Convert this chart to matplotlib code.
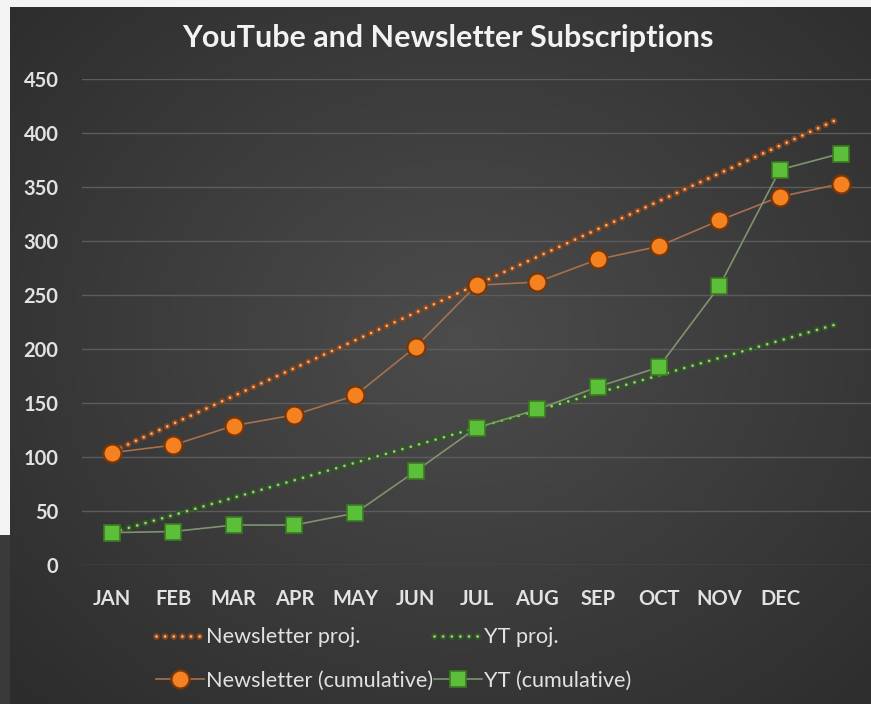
import numpy as np
import matplotlib
matplotlib.use("Agg")
import matplotlib.pyplot as plt
import matplotlib.patheffects as pe
from matplotlib.patches import Rectangle

# data
months = ["JAN", "FEB", "MAR", "APR", "MAY", "JUN", "JUL", "AUG", "SEP", "OCT", "NOV", "DEC", ""]
newsletter = [104, 111, 129, 139, 157, 202, 259, 262, 283, 295, 319, 341, 353]
youtube = [30, 31, 37, 37, 48, 87, 127, 144, 165, 183, 258, 366, 381]
# trend lines: value at first and last point
newsletter_proj = [105, 414]
youtube_proj = [30, 224]

plt.rcParams['font.family'] = ['Lato', 'DejaVu Sans']
plt.rcParams['lines.scale_dashes'] = False
txt = '#e2e2e2'

fig = plt.figure(figsize=(8.71, 7.04), dpi=100, facecolor='#f4f4f4')

# dark panel with radial gradient
bg = fig.add_axes([10/871, 0, 1 - 10/871, 697/704], zorder=0)
yy, xx = np.mgrid[0:200, 0:250]
r = np.sqrt(((xx - 130) / 180.0) ** 2 + ((yy - 95) / 150.0) ** 2)
bg.imshow(np.clip(r, 0, 1), cmap=matplotlib.colors.LinearSegmentedColormap.from_list(
    'g', ['#4c4c4c', '#2c2c2c']), aspect='auto', vmin=0, vmax=1)
bg.axis('off')
fig.patches.append(Rectangle((0, 0), 10/871, 169/704, transform=fig.transFigure,
                             facecolor='#3a3a3a', edgecolor='none', zorder=1))

ax = fig.add_axes([82/871, 139/704, 1 - 82/871, 486/704], zorder=2)
ax.patch.set_alpha(0)
x = np.arange(len(newsletter))
xp = [x[0], x[-1]]

dots = (0, (0.01, 6.2))
n_proj, = ax.plot(xp, newsletter_proj, color='#eab48a', lw=2.0, linestyle=dots,
                  dash_capstyle='round', label='Newsletter proj.',
                  path_effects=[pe.Stroke(linewidth=4.8, foreground='#8c4618'), pe.Normal()], zorder=3)
y_proj, = ax.plot(xp, youtube_proj, color='#a8c890', lw=2.0, linestyle=dots,
                  dash_capstyle='round', label='YT proj.',
                  path_effects=[pe.Stroke(linewidth=4.8, foreground='#2f5c20'), pe.Normal()], zorder=3)
n_cum, = ax.plot(x, newsletter, color='#a8704c', lw=1.2, marker='o', markersize=13,
                 markerfacecolor='#f58220', markeredgecolor='#7a3608', markeredgewidth=1.6,
                 label='Newsletter (cumulative)', zorder=4)
y_cum, = ax.plot(x, youtube, color='#7f946c', lw=1.2, marker='s', markersize=12,
                 markerfacecolor='#5cbf3a', markeredgecolor='#3c7a22', markeredgewidth=1.2,
                 label='YT (cumulative)', zorder=4)

ax.set_xlim(-0.5, len(x) - 0.5)
ax.set_ylim(0, 450)
ax.set_yticks(np.arange(0, 451, 50))
ax.set_xticks(x)
ax.set_xticklabels(months)
ax.grid(axis='y', color='#5c5c5c', lw=1)
ax.set_axisbelow(True)
for s in ax.spines.values():
    s.set_visible(False)
ax.tick_params(length=0, colors=txt, labelsize=14.5)
ax.tick_params(axis='y', pad=17)
ax.tick_params(axis='x', pad=17, labelsize=14.5)
for lab in ax.get_xticklabels() + ax.get_yticklabels():
    lab.set_fontweight('bold')

fig.text(448/871, 1 - 38/704, 'YouTube and Newsletter Subscriptions', color='#f2f2f2',
         fontsize=22, fontweight='bold', ha='center', va='center', zorder=5)

fig.legend([n_proj, n_cum, y_proj, y_cum],
           ['Newsletter proj.', 'Newsletter (cumulative)', 'YT proj.', 'YT (cumulative)'],
           ncol=2, loc='center', bbox_to_anchor=(394/871, 45/704), frameon=False,
           fontsize=15.6, labelcolor=txt, handlelength=2.2, handletextpad=0.1,
           columnspacing=0.05, labelspacing=1.1)

fig.savefig('out.png', dpi=100, facecolor=fig.get_facecolor())
